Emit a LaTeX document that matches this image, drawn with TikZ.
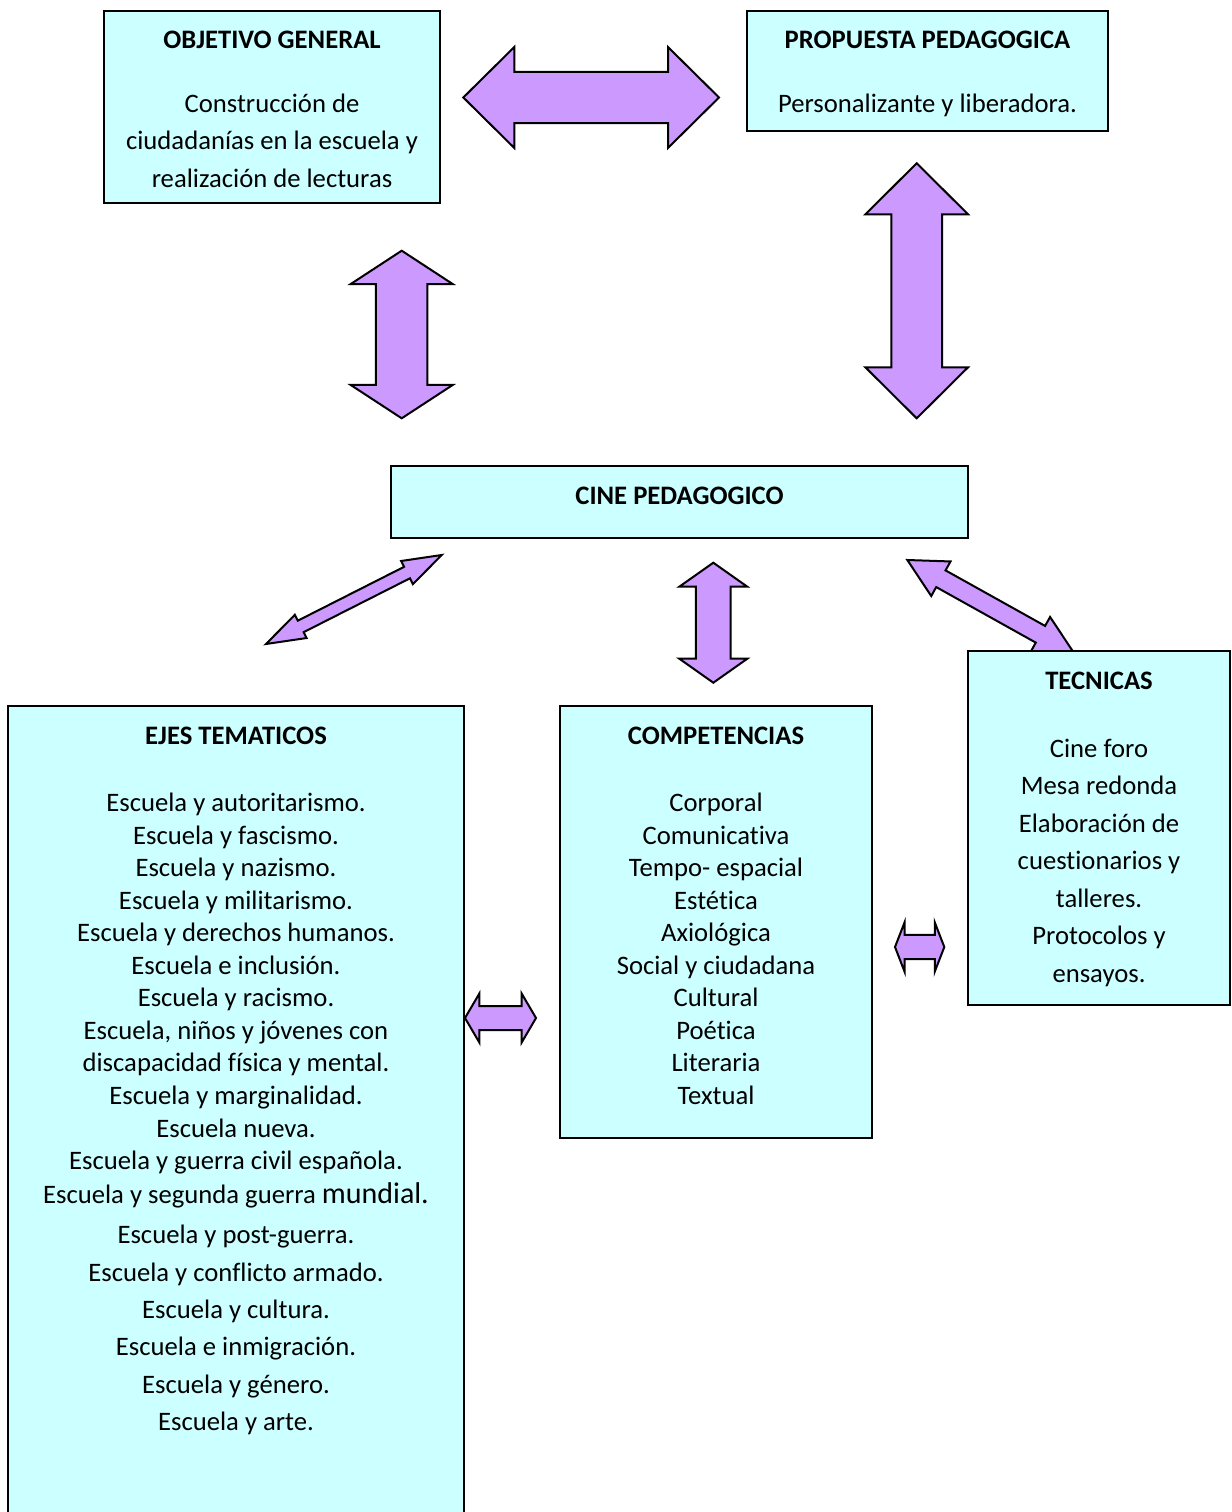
\documentclass[tikz,border=0pt]{standalone}
\usepackage{fontspec}
\setmainfont[Ligatures=NoCommon]{Carlito}
\usetikzlibrary{positioning}
\usetikzlibrary{calc}
\definecolor{boxfill}{HTML}{CCFFFF}
\definecolor{arrowfill}{HTML}{CC99FF}
\tikzset{
	every path/.style={line width=0.9pt},
	box/.style={draw,fill=boxfill,inner sep=0pt},
	boxtitle/.style={font=\fontsize{12}{14.65}\selectfont\bfseries,anchor=base,inner sep=0pt},
	bodytext/.style={font=\fontsize{12}{14.65}\selectfont,align=center,anchor=north,inner sep=0pt},
	bodyloose/.style={bodytext,font=\fontsize{12}{16.85}\selectfont},
	barrow/.style n args={3}{draw,fill=arrowfill,line join=miter,
		to path={
			-- ($(\tikztostart)!#1!(\tikztotarget) + (\tikztostart)!#2!90:(\tikztotarget) - (\tikztostart)$)
			-- ($(\tikztostart)!#1!(\tikztotarget) + (\tikztostart)!#3!90:(\tikztotarget) - (\tikztostart)$)
			-- ($(\tikztotarget)!#1!(\tikztostart) + (\tikztotarget)!#3!-90:(\tikztostart) - (\tikztotarget)$)
			-- ($(\tikztotarget)!#1!(\tikztostart) + (\tikztotarget)!#2!-90:(\tikztostart) - (\tikztotarget)$)
			-- (\tikztotarget)
			-- ($(\tikztotarget)!#1!(\tikztostart) + (\tikztotarget)!#2!90:(\tikztostart) - (\tikztotarget)$)
			-- ($(\tikztotarget)!#1!(\tikztostart) + (\tikztotarget)!#3!90:(\tikztostart) - (\tikztotarget)$)
			-- ($(\tikztostart)!#1!(\tikztotarget) + (\tikztostart)!#3!-90:(\tikztotarget) - (\tikztostart)$)
			-- ($(\tikztostart)!#1!(\tikztotarget) + (\tikztostart)!#2!-90:(\tikztotarget) - (\tikztostart)$)
			-- cycle}},
}

\begin{document}
\begin{tikzpicture}[x=0.45pt,y=-0.45pt]
	\useasboundingbox (0,0) rectangle (1231,1512);

	% OBJETIVO GENERAL....................
	\node [box,minimum width=151.2pt,minimum height=86.4pt] (obj) at (272,107) {};
	\node [boxtitle] (objtitle) at (272,48.6) {OBJETIVO GENERAL};
	\node [bodyloose] (objtext) at (272,93) {Construcción de\\ciudadanías en la escuela y\\realización de lecturas};

	% PROPUESTA PEDAGOGICA....................
	\node [box,minimum width=162.45pt,minimum height=54pt] (prop) at (927.5,71) {};
	\node [boxtitle] (proptitle) at (927.5,48.6) {PROPUESTA PEDAGOGICA};
	\node [bodytext] (proptext) at (927.5,93) {Personalizante y liberadora.};

	% CINE PEDAGOGICO....................
	\node [box,minimum width=259.65pt,minimum height=32.4pt] (cine) at (679.5,502) {};
	\node [boxtitle] (cinetitle) at (679.5,504.6) {CINE PEDAGOGICO};

	% EJES TEMATICOS....................
	\node [box,minimum width=205.2pt,minimum height=370.8pt] (ejes) at (236,1118) {};
	\node [boxtitle] (ejestitle) at (236,744.6) {EJES TEMATICOS};
	\node [bodytext] (ejestext) at (236,792) {Escuela y autoritarismo.\\Escuela y fascismo.\\Escuela y nazismo.\\Escuela y militarismo.\\Escuela y derechos humanos.\\Escuela e inclusión.\\Escuela y racismo.\\Escuela, niños y jóvenes con\\discapacidad física y mental.\\Escuela y marginalidad.\\Escuela nueva.\\Escuela y guerra civil española.\\[0.65pt]Escuela y segunda guerra {\fontsize{13.5}{17}\selectfont mundial.}\\[3.35pt]Escuela y post-guerra.\\[2.2pt]Escuela y conflicto armado.\\[2.2pt]Escuela y cultura.\\[2.2pt]Escuela e inmigración.\\[2.2pt]Escuela y género.\\[2.2pt]Escuela y arte.};

	% COMPETENCIAS....................
	\node [box,minimum width=140.4pt,minimum height=194.4pt] (comp) at (716,922) {};
	\node [boxtitle] (comptitle) at (716,744.6) {COMPETENCIAS};
	\node [bodytext] (comptext) at (716,792) {Corporal\\Comunicativa\\Tempo- espacial\\Estética\\Axiológica\\Social y ciudadana\\Cultural\\Poética\\Literaria\\Textual};

	% arrow ends....................
	\coordinate (op1) at (463.3,97.5);
	\coordinate (op2) at (719,97.5);
	\coordinate (oc1) at (401.7,250.7);
	\coordinate (oc2) at (401.7,418.3);
	\coordinate (pc1) at (916.7,163.3);
	\coordinate (pc2) at (916.7,418.3);
	\coordinate (ce1) at (441.7,555);
	\coordinate (ce2) at (266,644);
	\coordinate (cc1) at (713.3,562.7);
	\coordinate (cc2) at (713.3,682.7);
	\coordinate (ct1) at (907.3,560);
	\coordinate (ct2) at (1074,653);
	\coordinate (ec1) at (465,1018);
	\coordinate (ec2) at (536,1018);
	\coordinate (cte1) at (895,947);
	\coordinate (cte2) at (944.3,947);

	% double arrows....................
	\draw [barrow={22.95pt}{22.7pt}{11.5pt}] (op1) to (op2);
	\draw [barrow={15pt}{22.95pt}{11.6pt}] (oc1) to (oc2);
	\draw [barrow={22.95pt}{23.1pt}{11.4pt}] (pc1) to (pc2);
	\draw [barrow={17.5pt}{5.85pt}{2.9pt}] (ce1) to (ce2);
	\draw [barrow={10.8pt}{15.3pt}{7.8pt}] (cc1) to (cc2);
	\draw [barrow={17.3pt}{8.9pt}{4.3pt}] (ct1) to (ct2);
	\draw [barrow={6.5pt}{11.1pt}{5.4pt}] (ec1) to (ec2);
	\draw [barrow={4.3pt}{11.1pt}{5.5pt}] (cte1) to (cte2);

	% TECNICAS....................
	\node [box,minimum width=117.9pt,minimum height=159.3pt] (tec) at (1099,828) {};
	\node [boxtitle] (tectitle) at (1099,689.6) {TECNICAS};
	\node [bodyloose] (tectext) at (1099,738) {Cine foro\\Mesa redonda\\Elaboración de\\cuestionarios y\\talleres.\\Protocolos y\\ensayos.};

\end{tikzpicture}
\end{document}
